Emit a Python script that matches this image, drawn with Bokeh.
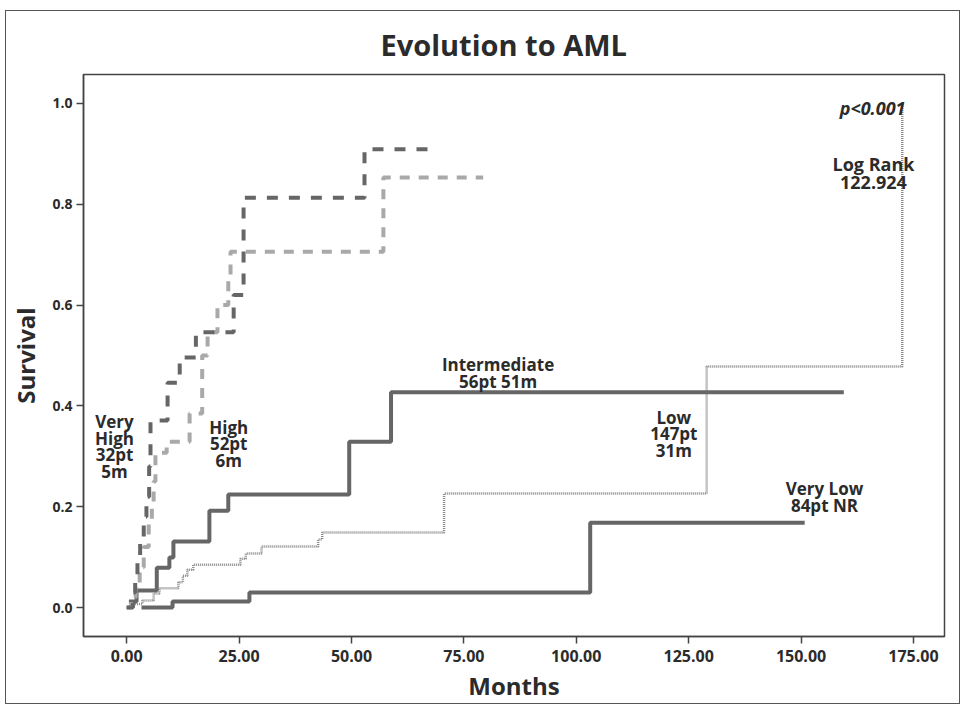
from bokeh.plotting import figure
from bokeh.models import Range1d, FixedTicker, PrintfTickFormatter
from bokeh.core.properties import value
from bokeh.embed import file_html
from bokeh.resources import INLINE

# ---- data (months, cumulative probability) ----
vh_t = [0, 1.4, 1.9, 2.4, 3.0, 3.8, 4.4, 5.0, 5.3, 9.1, 11.8, 15.4, 23.8, 26.0, 52.9, 67.7]
vh_v = [0, 0.03, 0.06, 0.10, 0.14, 0.18, 0.22, 0.28, 0.371, 0.446, 0.496, 0.546, 0.62, 0.813, 0.909, 0.909]

hi_t = [0, 1.0, 2.0, 2.9, 3.8, 4.9, 5.6, 6.0, 6.4, 8.9, 14.0, 16.8, 18.0, 20.2, 22.6, 23.1, 57.1, 79.3]
hi_v = [0, 0.02, 0.04, 0.08, 0.12, 0.17, 0.21, 0.25, 0.307, 0.329, 0.385, 0.50, 0.546, 0.60, 0.65, 0.706, 0.853, 0.853]

int_t = [0.5, 2.2, 6.7, 9.5, 10.4, 18.4, 22.6, 49.5, 58.8, 159.5]
int_v = [0.012, 0.034, 0.079, 0.099, 0.131, 0.192, 0.224, 0.329, 0.427, 0.427]

low_t = [0, 1.5, 3.5, 6.0, 7.3, 11.5, 12.5, 13.5, 14.8, 25.3, 26.5, 30.0, 42.6, 43.5, 70.6, 129.0, 172.5]
low_v = [0, 0.007, 0.014, 0.028, 0.038, 0.05, 0.063, 0.075, 0.085, 0.097, 0.107, 0.121, 0.135, 0.149, 0.226, 0.478, 1.0]

vl_t = [3.3, 10.2, 27.3, 103.1, 150.8]
vl_v = [0.0, 0.012, 0.030, 0.168, 0.168]

x_ticks = [0, 25, 50, 75, 100, 125, 150, 175]
y_ticks = [0.0, 0.2, 0.4, 0.6, 0.8, 1.0]

labels = ["Very\nHigh\n32pt\n5m", "High\n52pt\n6m", "Intermediate\n56pt 51m",
          "Low\n147pt\n31m", "Very Low\n84pt NR"]
label_x = [-2.7, 22.7, 82.6, 121.7, 155.2]
label_y = [0.319, 0.325, 0.465, 0.345, 0.219]

stat_text = "Log Rank\n122.924"
stat_x, stat_y = 166.1, 0.862
pval_text = "p<0.001"
pval_x, pval_y = 165.9, 0.992

FONT = "Open Sans"
DARK = "#666666"
LIGHT = "#a9a9a9"
DOT = "#8a8a8a"
TXT = "#2b2b2b"

p = figure(width=955, height=694, output_backend="svg", toolbar_location=None,
           x_range=Range1d(-9.6, 181.9), y_range=Range1d(-0.0575, 1.0575),
           min_border_left=76, min_border_right=17, min_border_top=63, min_border_bottom=69,
           title="Evolution to AML")
p.styles = {"border": "1px solid #555555", "margin-left": "5px", "margin-top": "10px"}

p.title.align = "left"
p.title.offset = 297
p.title.text_font = FONT
p.title.text_font_size = "29px"
p.title.text_font_style = "bold"
p.title.text_color = TXT
p.title.standoff = 22

p.grid.visible = False
p.outline_line_color = "#444444"
p.outline_line_width = 1.5

for ax in (p.xaxis[0], p.yaxis[0]):
    ax.axis_line_color = "#444444"
    ax.axis_line_width = 1.5
    ax.major_tick_line_color = "#444444"
    ax.major_tick_line_width = 1.5
    ax.major_tick_in = 0
    ax.major_tick_out = 7
    ax.minor_tick_line_color = None
    ax.major_label_text_font = FONT
    ax.major_label_text_font_style = "bold"
    ax.major_label_text_color = TXT
    ax.axis_label_text_font = FONT
    ax.axis_label_text_font_style = "bold"
    ax.axis_label_text_color = TXT
    ax.axis_label_text_font_size = "24px"

p.xaxis.ticker = FixedTicker(ticks=x_ticks)
p.xaxis.formatter = PrintfTickFormatter(format="%.2f")
p.xaxis.major_label_text_font_size = "16px"
p.xaxis.major_label_standoff = 6
p.xaxis.axis_label = "Months"
p.xaxis.axis_label_standoff = 4

p.yaxis.ticker = FixedTicker(ticks=y_ticks)
p.yaxis.formatter = PrintfTickFormatter(format="%.1f")
p.yaxis.major_label_text_font_size = "14px"
p.yaxis.major_label_standoff = 4
p.yaxis.axis_label = "Survival"
p.yaxis.axis_label_standoff = 7

# curves
p.step(x=low_t, y=low_v, mode="after", line_color=DOT, line_width=2.5, line_dash="1 1")
p.step(x=vl_t, y=vl_v, mode="after", line_color=DARK, line_width=4)
p.step(x=int_t, y=int_v, mode="after", line_color=DARK, line_width=4)
p.step(x=hi_t, y=hi_v, mode="after", line_color=LIGHT, line_width=4, line_dash="10 9")
p.step(x=vh_t, y=vh_v, mode="after", line_color=DARK, line_width=4, line_dash="11 11")

# annotations
p.text(x=label_x, y=label_y, text=labels, text_font=value(FONT), text_font_style="bold",
       text_font_size="17px", text_color=TXT, text_align="center", text_baseline="middle",
       text_line_height=0.72)
p.text(x=[stat_x], y=[stat_y], text=[stat_text], text_font=value(FONT), text_font_style="bold",
       text_font_size="18px", text_color=TXT, text_align="center", text_baseline="middle",
       text_line_height=0.72)
p.text(x=[pval_x], y=[pval_y], text=[pval_text], text_font=value(FONT),
       text_font_style="bold italic", text_font_size="18px", text_color=TXT,
       text_align="center", text_baseline="middle")

open("out.html", "w").write(file_html(p, INLINE))
